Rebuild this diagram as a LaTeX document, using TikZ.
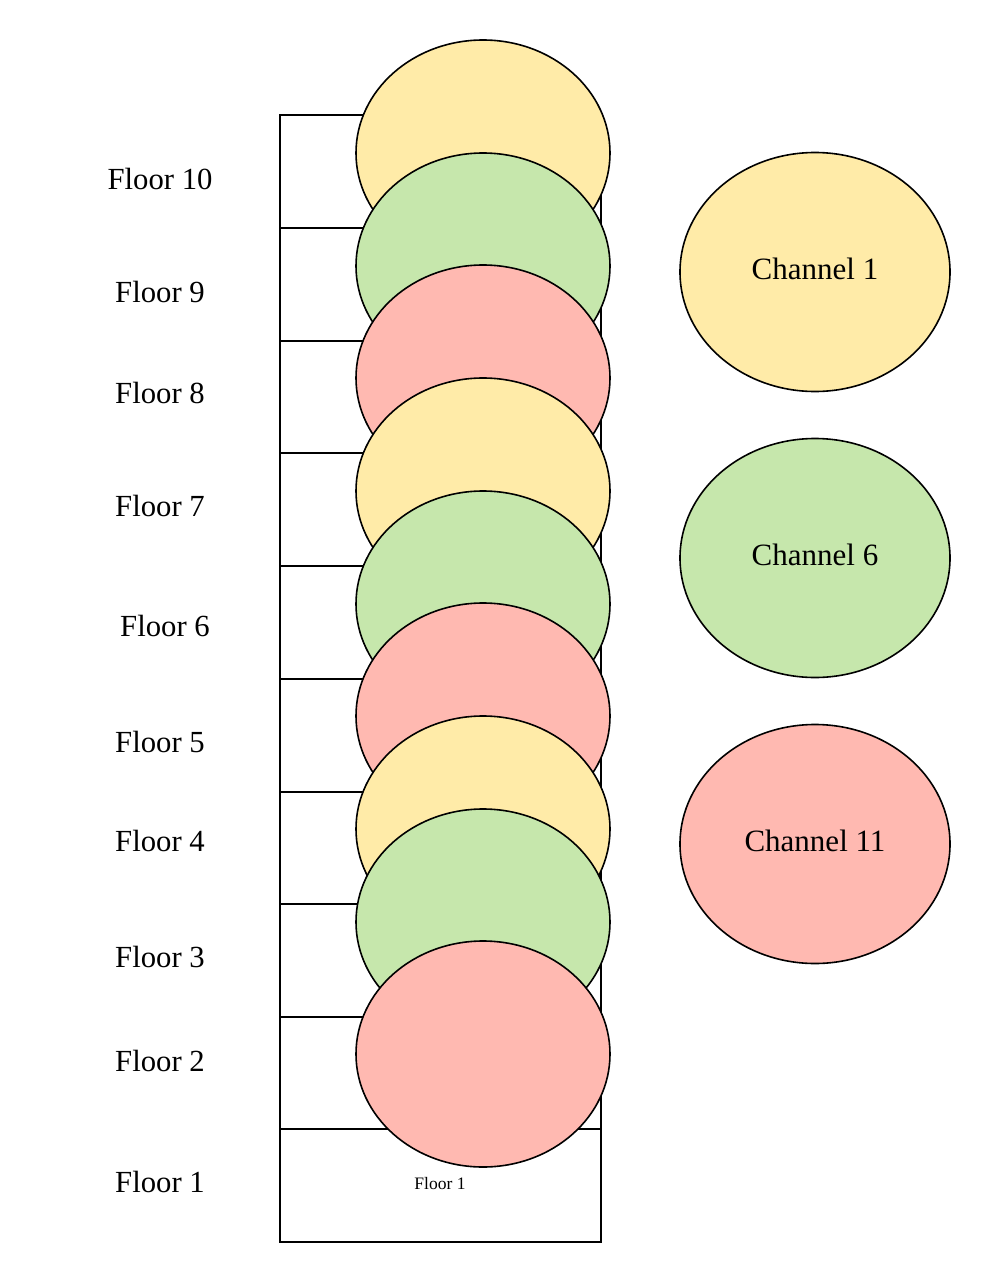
\documentclass[tikz,border=0pt]{standalone}
\usepackage{fontspec}
\setmainfont{Liberation Serif}
\usetikzlibrary{shapes.geometric}
\definecolor{chyellow}{RGB}{255,235,168}
\definecolor{chgreen}{RGB}{198,231,172}
\definecolor{chred}{RGB}{255,185,177}
\begin{document}
\begin{tikzpicture}[x=1pt,y=-1pt,
  floorbox/.style={draw=black,line width=1.8pt,fill=white},
  ap/.style={ellipse,draw=black,line width=1.6pt,minimum width=254pt,minimum height=226pt,inner sep=0pt},
  chan/.style={ellipse,draw=black,line width=1.6pt,minimum width=270pt,minimum height=239pt,inner sep=0pt},
  chantext/.style={font=\fontsize{31}{36}\selectfont,inner sep=0pt},
  flabel/.style={font=\fontsize{30.7}{36}\selectfont,inner sep=0pt}]
\useasboundingbox (0,0) rectangle (990,1282);
% floor boxes
\foreach \t [count=\i] in {115,228,341,453,566,679,792,904,1017,1129}{
  \pgfmathsetmacro{\b}{\t+112.7}
  \draw[floorbox] (280,\t) rectangle (601,\b);
}
\node[font=\fontsize{17.5}{20}\selectfont,inner sep=0pt] (f1small) at (440,1183) {Floor 1};
% access point ellipses (top to bottom)
\node[ap,fill=chyellow] (e10) at (483,153) {};
\node[ap,fill=chgreen]  (e9)  at (483,266) {};
\node[ap,fill=chred]    (e8)  at (483,378) {};
\node[ap,fill=chyellow] (e7)  at (483,491) {};
\node[ap,fill=chgreen]  (e6)  at (483,604) {};
\node[ap,fill=chred]    (e5)  at (483,716) {};
\node[ap,fill=chyellow] (e4)  at (483,829) {};
\node[ap,fill=chgreen]  (e3)  at (483,922) {};
\node[ap,fill=chred]    (e2)  at (483,1054) {};
% floor labels
\node[flabel] (l10) at (160,179) {Floor 10};
\node[flabel] (l9)  at (160,292) {Floor 9};
\node[flabel] (l8)  at (160,393) {Floor 8};
\node[flabel] (l7)  at (160,506) {Floor 7};
\node[flabel] (l6)  at (165,626) {Floor 6};
\node[flabel] (l5)  at (160,742) {Floor 5};
\node[flabel] (l4)  at (160,841) {Floor 4};
\node[flabel] (l3)  at (160,957) {Floor 3};
\node[flabel] (l2)  at (160,1061) {Floor 2};
\node[flabel] (l1)  at (160,1182) {Floor 1};
% channel legend
\node[chan,fill=chyellow] (c1)  at (815,272) {};
\node[chan,fill=chgreen]  (c6)  at (815,558) {};
\node[chan,fill=chred]    (c11) at (815,844) {};
\node[chantext] (t1)  at (815,269) {Channel 1};
\node[chantext] (t6)  at (815,555) {Channel 6};
\node[chantext] (t11) at (815,841) {Channel 11};
\end{tikzpicture}
\end{document}
